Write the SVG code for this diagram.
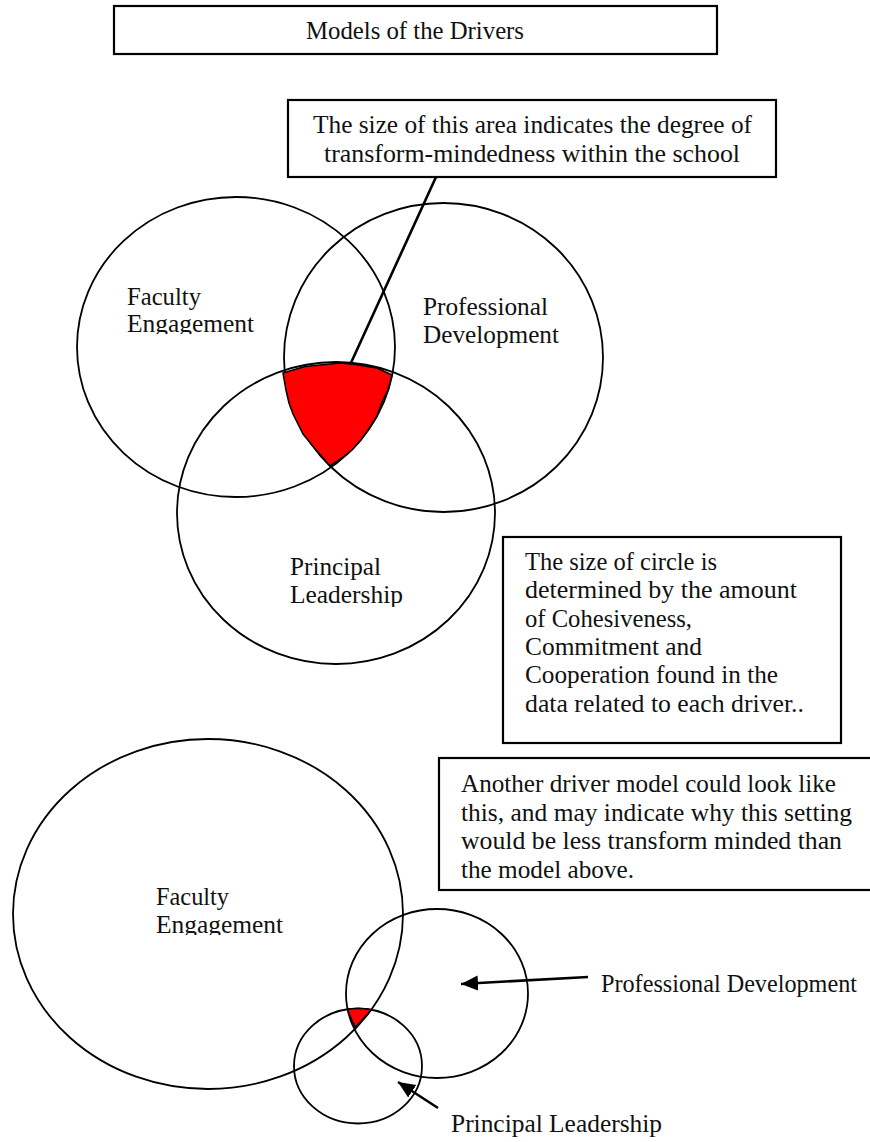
<svg xmlns="http://www.w3.org/2000/svg" width="870" height="1142" viewBox="0 0 870 1142">
<style>
.t{font-family:"Liberation Serif","Times New Roman",serif;font-size:25px;fill:#111}
.box{fill:#fff;stroke:#000;stroke-width:2.2}
.c{fill:none;stroke:#000;stroke-width:1.8}
.red{fill:#ff0000;stroke:#000;stroke-width:1.6;stroke-linejoin:round}
.con{fill:none;stroke:#000;stroke-width:2.6}
</style>
<defs>
<marker id="ah" markerUnits="userSpaceOnUse" markerWidth="18" markerHeight="16" refX="17" refY="8" orient="auto">
<path d="M0,0.5 L17,8 L0,15.5 Z" fill="#000"/>
</marker>
<clipPath id="clipFE1"><rect x="0" y="0" width="870" height="334"/></clipPath>
<clipPath id="clipPL1"><rect x="0" y="0" width="870" height="607"/></clipPath>
<clipPath id="clipFE2"><rect x="0" y="0" width="870" height="935"/></clipPath>
</defs>
<rect width="870" height="1142" fill="#fff"/>

<g id="title">
<rect class="box" x="114" y="6" width="603" height="48"/>
<text class="t" x="306" y="39" textLength="218" lengthAdjust="spacingAndGlyphs">Models of the Drivers</text>
</g>

<g id="callout-area">
<rect class="box" x="288" y="100" width="488" height="77"/>
<text class="t" x="313" y="133" textLength="439" lengthAdjust="spacingAndGlyphs">The size of this area indicates the degree of</text>
<text class="t" x="324" y="162" textLength="416" lengthAdjust="spacingAndGlyphs">transform-mindedness within the school</text>
</g>

<g id="top-faculty">
<ellipse class="c" cx="236" cy="347" rx="159" ry="150"/>
<g clip-path="url(#clipFE1)">
<text class="t" x="127" y="305" textLength="74" lengthAdjust="spacingAndGlyphs">Faculty</text>
<text class="t" x="127" y="332" textLength="127" lengthAdjust="spacingAndGlyphs">Engagement</text>
</g>
</g>

<g id="top-professional">
<ellipse class="c" cx="443.5" cy="357.5" rx="159.5" ry="154.5"/>
<text class="t" x="423" y="315" textLength="125" lengthAdjust="spacingAndGlyphs">Professional</text>
<text class="t" x="423" y="343" textLength="136" lengthAdjust="spacingAndGlyphs">Development</text>
</g>

<g id="top-principal">
<ellipse class="c" cx="336" cy="513" rx="159" ry="151"/>
<g clip-path="url(#clipPL1)">
<text class="t" x="290" y="575" textLength="91" lengthAdjust="spacingAndGlyphs">Principal</text>
<text class="t" x="290" y="603" textLength="113" lengthAdjust="spacingAndGlyphs">Leadership</text>
</g>
</g>

<g id="top-overlap">
<polygon class="red" points="283,373 305,366.5 340,363 352,364 377,368 392,375 388,390 383,400 377,416 370,427 361,440 352,450 342,458 330,466 316,450 303,434 293,414 289,403 286,390"/>
</g>

<g id="callout-size">
<rect class="box" x="503" y="537" width="338" height="206"/>
<text class="t" x="525" y="570" textLength="192" lengthAdjust="spacingAndGlyphs">The size of circle is</text>
<text class="t" x="525" y="598.3" textLength="272" lengthAdjust="spacingAndGlyphs">determined by the amount</text>
<text class="t" x="525" y="626.6" textLength="167" lengthAdjust="spacingAndGlyphs">of Cohesiveness,</text>
<text class="t" x="525" y="654.9" textLength="177" lengthAdjust="spacingAndGlyphs">Commitment and</text>
<text class="t" x="525" y="683.2" textLength="253" lengthAdjust="spacingAndGlyphs">Cooperation found in the</text>
<text class="t" x="525" y="711.5" textLength="279" lengthAdjust="spacingAndGlyphs">data related to each driver..</text>
</g>

<g id="callout-another">
<rect class="box" x="439" y="758" width="440" height="132"/>
<text class="t" x="461" y="792" textLength="375" lengthAdjust="spacingAndGlyphs">Another driver model could look like</text>
<text class="t" x="461" y="820.5" textLength="391" lengthAdjust="spacingAndGlyphs">this, and may indicate why this setting</text>
<text class="t" x="461" y="849" textLength="381" lengthAdjust="spacingAndGlyphs">would be less transform minded than</text>
<text class="t" x="461" y="877.5" textLength="173" lengthAdjust="spacingAndGlyphs">the model above.</text>
</g>

<g id="bottom-faculty">
<ellipse class="c" cx="208" cy="914" rx="195" ry="175"/>
<g clip-path="url(#clipFE2)">
<text class="t" x="156" y="905" textLength="73" lengthAdjust="spacingAndGlyphs">Faculty</text>
<text class="t" x="156" y="933" textLength="127" lengthAdjust="spacingAndGlyphs">Engagement</text>
</g>
</g>

<g id="bottom-professional">
<ellipse class="c" cx="437" cy="993.5" rx="91" ry="84.5"/>
<text class="t" x="601" y="992" textLength="256" lengthAdjust="spacingAndGlyphs">Professional Development</text>
</g>

<g id="bottom-principal">
<ellipse class="c" cx="358" cy="1066" rx="64" ry="57.5"/>
<text class="t" x="451" y="1132" textLength="211" lengthAdjust="spacingAndGlyphs">Principal Leadership</text>
</g>

<g id="bottom-overlap">
<path class="red" d="M347.6,1009.3 A64,57.5 0 0 1 371.2,1009.7 A195,175 0 0 1 355.3,1027 A91,84.5 0 0 1 347.6,1009.3 Z"/>
</g>

<g id="connectors">
<line class="con" x1="436" y1="177" x2="350" y2="365"/>
<line class="con" x1="588" y1="977" x2="461" y2="984" marker-end="url(#ah)"/>
<line class="con" x1="438" y1="1108" x2="398" y2="1082" marker-end="url(#ah)"/>
</g>
</svg>
